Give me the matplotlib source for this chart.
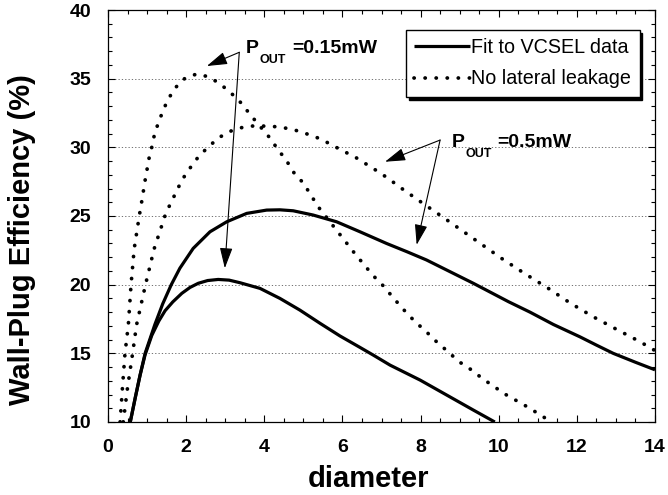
import matplotlib
matplotlib.use("Agg")
import matplotlib.pyplot as plt
from matplotlib.patches import ArrowStyle
from matplotlib.ticker import MultipleLocator
import matplotlib.transforms as mtransforms

plt.rcParams['font.family'] = ['Liberation Sans', 'DejaVu Sans']

# ---- data ----
fit_015_x = [0.57, 0.70, 0.82, 0.95, 1.12, 1.30, 1.46, 1.66, 1.89, 2.10, 2.31, 2.55, 2.82, 3.10,
             3.38, 3.89, 4.40, 4.91, 5.43, 5.94, 6.45, 6.79, 7.22, 7.99, 8.67, 9.35, 9.90]
fit_015_y = [10.0, 11.8, 13.4, 14.9, 16.3, 17.35, 18.1, 18.75, 19.37, 19.8, 20.1, 20.3, 20.38, 20.33,
             20.14, 19.73, 19.0, 18.15, 17.18, 16.26, 15.43, 14.87, 14.14, 13.05, 11.96, 10.87, 10.0]

fit_05_x = [0.57, 0.70, 0.82, 0.95, 1.20, 1.40, 1.62, 1.84, 2.18, 2.61, 3.04, 3.55, 4.06, 4.40,
            4.74, 5.25, 5.85, 6.45, 7.13, 7.65, 8.15, 9.35, 10.25, 10.8, 11.4, 12.08, 12.5, 12.93,
            13.5, 14.0]
fit_05_y = [10.0, 11.8, 13.4, 15.0, 17.1, 18.6, 20.0, 21.2, 22.64, 23.85, 24.58, 25.19, 25.43, 25.45,
            25.38, 25.07, 24.58, 23.85, 23.0, 22.4, 21.8, 20.1, 18.76, 18.0, 17.1, 16.2, 15.6, 15.0,
            14.35, 13.8]

nolk_015_x = [0.31, 0.37, 0.435, 0.52, 0.59, 0.67, 0.80, 0.86, 0.95, 1.05, 1.12, 1.19, 1.29, 1.40,
              1.52, 1.71, 1.97, 2.27, 2.57, 2.85, 3.14, 3.40, 3.65, 3.90, 4.13, 4.36, 4.56, 4.77,
              5.00, 5.38, 5.84, 6.08, 6.28, 6.54, 6.79, 7.05, 7.30, 7.56, 7.86, 8.13, 8.41, 8.71,
              8.98, 9.31, 9.58, 9.89, 10.18, 10.76, 11.35]
nolk_015_y = [10.0, 12.5, 15.0, 17.06, 20.0, 22.6, 25.0, 26.0, 27.6, 29.2, 30.0, 30.95, 31.8, 32.6,
              33.4, 34.3, 35.03, 35.34, 35.14, 34.66, 33.98, 33.25, 32.35, 31.5, 30.73, 29.8, 29.07,
              28.1, 27.4, 25.67, 24.0, 23.13, 22.4, 21.5, 20.65, 19.9, 19.05, 18.2, 17.3, 16.62, 15.84,
              15.1, 14.4, 13.78, 13.17, 12.56, 12.0, 11.06, 10.0]

nolk_05_x = [0.39, 0.50, 0.63, 0.73, 0.96, 1.18, 1.48, 1.89, 2.05, 2.31, 2.57, 2.85, 3.15, 3.45,
             3.70, 3.97, 4.32, 4.59, 4.87, 5.17, 5.45, 5.73, 6.02, 6.32, 6.62, 6.92, 7.17, 7.47,
             8.07, 8.63, 9.18, 9.48, 10.08, 10.67, 11.27, 11.82, 12.42, 13.02, 13.62, 14.0]
nolk_05_y = [10.0, 12.5, 15.0, 17.06, 20.0, 22.6, 25.2, 27.6, 28.3, 29.3, 30.04, 30.73, 31.19, 31.46,
             31.55, 31.55, 31.5, 31.38, 31.19, 30.9, 30.6, 30.17, 29.73, 29.3, 28.76, 28.22, 27.74, 27.1,
             25.9, 24.8, 23.7, 23.1, 21.9, 20.8, 19.73, 18.68, 17.66, 16.74, 15.84, 15.2]

legend_labels = ["Fit to VCSEL data", "No lateral leakage"]
x_ticks = [0, 2, 4, 6, 8, 10, 12, 14]
y_ticks = [10, 15, 20, 25, 30, 35, 40]

# ---- figure ----
fig = plt.figure(figsize=(6.68, 4.95), dpi=100)
ax = fig.add_axes([108/668, 1 - 422/495, 547/668, 412/495])

dot_style = (0, (0.05, 2.9))
l1, = ax.plot(fit_05_x, fit_05_y, color='black', lw=2.3, solid_capstyle='butt', solid_joinstyle='round')
ax.plot(fit_015_x, fit_015_y, color='black', lw=2.3, solid_capstyle='butt', solid_joinstyle='round')
l2, = ax.plot(nolk_05_x, nolk_05_y, color='black', lw=2.7, linestyle=dot_style, dash_capstyle='round')
ax.plot(nolk_015_x, nolk_015_y, color='black', lw=2.7, linestyle=dot_style, dash_capstyle='round')

ax.set_xlim(0, 14)
ax.set_ylim(10, 40)
ax.set_xticks(x_ticks)
ax.set_yticks(y_ticks)
ax.xaxis.set_minor_locator(MultipleLocator(0.5))
ax.yaxis.set_minor_locator(MultipleLocator(1))
ax.tick_params(which='both', direction='in', top=True, right=True, width=0.8)
ax.tick_params(which='major', length=5, pad=12, labelsize=14)
ax.tick_params(which='minor', length=3)
for lab in ax.get_xticklabels() + ax.get_yticklabels():
    lab.set_fontweight('bold')
for s in ax.spines.values():
    s.set_linewidth(0.9)

ax.yaxis.grid(True, which='major', linestyle=(0, (1.5, 2.5)), color='0.35', lw=0.6)

ax.set_xlabel('diameter', fontsize=21, fontweight='bold')
ax.set_ylabel('Wall-Plug Efficiency (%)', fontsize=21, fontweight='bold')
ax.xaxis.set_label_coords(0.476, -0.105)
ax.yaxis.set_label_coords(-0.132, 0.442)

leg = ax.legend([l1, l2], legend_labels, loc='upper left', bbox_to_anchor=(0.5448, 0.9515),
                borderaxespad=0, fontsize=14.2, fancybox=False, edgecolor='black', framealpha=1,
                shadow={'color': 'black', 'alpha': 1}, handlelength=2.8, handletextpad=0.1,
                labelspacing=0.62, borderpad=0.42)
leg.get_frame().set_linewidth(1.0)

# ---- annotations ----
astyle = ArrowStyle('-|>', head_length=0.9, head_width=0.28)
def arrow(tip, origin):
    ax.annotate('', xy=tip, xytext=origin,
                arrowprops=dict(arrowstyle=astyle, mutation_scale=14, color='black', lw=0.8,
                                shrinkA=0, shrinkB=0))

arrow((2.53, 35.92), (3.36, 36.92))
arrow((2.99, 21.2), (3.36, 36.92))
arrow((7.09, 28.95), (8.5, 30.53))
arrow((7.9, 22.9), (8.5, 30.53))

def pout(x, y, value):
    ax.text(x, y, 'P', fontsize=14, fontweight='bold', ha='left', va='baseline')
    tr = mtransforms.offset_copy(ax.transData, fig=fig, x=9.5, y=-7.5, units='points')
    ax.text(x, y, 'OUT', fontsize=9, fontweight='bold', ha='left', va='baseline', transform=tr)
    tr2 = mtransforms.offset_copy(ax.transData, fig=fig, x=33, y=0, units='points')
    ax.text(x, y, value, fontsize=14, fontweight='bold', ha='left', va='baseline', transform=tr2)

pout(3.53, 36.89, '=0.15mW')
pout(8.8, 30.04, '=0.5mW')

fig.savefig('out.png', dpi=100)
